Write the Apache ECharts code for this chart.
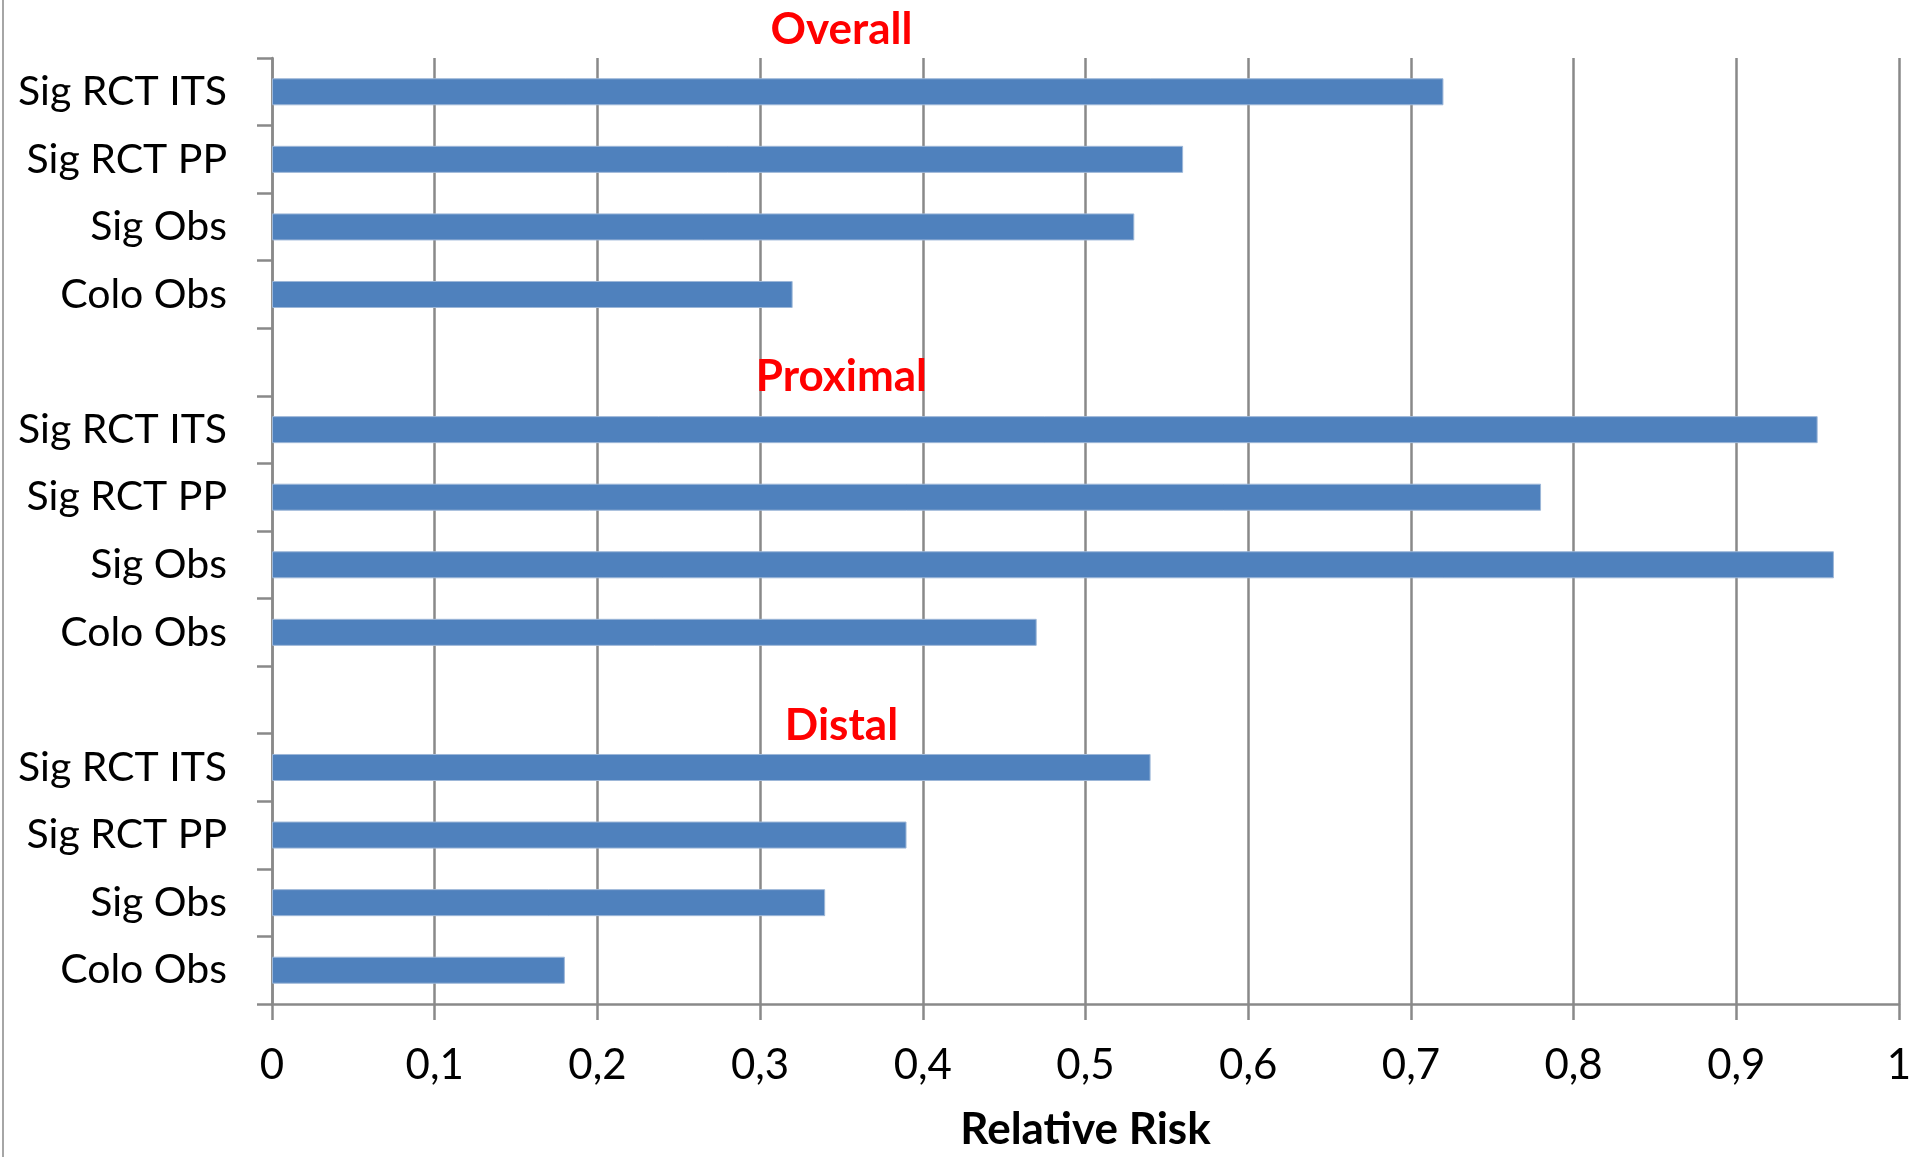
<!DOCTYPE html>
<html>
<head>
<meta charset="utf-8">
<title>Relative Risk</title>
<script src="https://cdn.jsdelivr.net/npm/echarts@6/dist/echarts.min.js"></script>
<style>
  html, body { margin: 0; padding: 0; background: #ffffff; }
  #chart { width: 1915px; height: 1157px; }
</style>
</head>
<body>
<div id="chart"></div>
<script>
// Row labels inside each section, top to bottom
const rowLabels = ['Sig RCT ITS', 'Sig RCT PP', 'Sig Obs', 'Colo Obs'];
// Section headings, top to bottom
const sectionNames = ['Overall', 'Proximal', 'Distal'];
// Relative risk per section, in the order of rowLabels
const overallRR = [0.72, 0.56, 0.53, 0.32];
const proximalRR = [0.95, 0.78, 0.96, 0.47];
const distalRR = [0.54, 0.39, 0.34, 0.18];
// Value axis ticks
const xTicks = [0, 0.1, 0.2, 0.3, 0.4, 0.5, 0.6, 0.7, 0.8, 0.9, 1];

const sectionValues = [overallRR, proximalRR, distalRR];

// Build the category list with a blank spacer row between sections
const categories = [];
const values = [];
const sectionFirstRow = [];
sectionValues.forEach(function (vals, s) {
  if (s > 0) { categories.push(''); values.push('-'); }
  sectionFirstRow.push(categories.length);
  rowLabels.forEach(function (lab, i) {
    categories.push(lab);
    values.push(vals[i]);
  });
});

const FONT = 'Lato, "Open Sans", "DejaVu Sans", sans-serif';
const AXIS_GRAY = '#898989';

const chart = echarts.init(document.getElementById('chart'), null, { renderer: 'canvas' });

const option = {
  backgroundColor: '#ffffff',
  animation: false,
  grid: { left: 272, right: 16, top: 58, bottom: 146, containLabel: false },
  xAxis: {
    type: 'value',
    min: xTicks[0],
    max: xTicks[xTicks.length - 1],
    interval: 0.1,
    name: 'Relative Risk',
    nameLocation: 'middle',
    nameGap: 104,
    nameTextStyle: { fontFamily: FONT, fontSize: 44, fontWeight: 'bold', color: '#000000' },
    axisLine: { show: true, lineStyle: { color: AXIS_GRAY, width: 2.5 } },
    axisTick: { show: true, length: 16, lineStyle: { color: AXIS_GRAY, width: 2.5 } },
    axisLabel: {
      margin: 40,
      fontFamily: FONT, fontSize: 42, color: '#000000',
      formatter: function (v) { return String(Math.round(v * 10) / 10).replace('.', ','); }
    },
    splitLine: { show: true, lineStyle: { color: AXIS_GRAY, width: 2.5 } }
  },
  yAxis: {
    type: 'category',
    inverse: true,
    data: categories,
    axisLine: { show: true, lineStyle: { color: AXIS_GRAY, width: 2.5 } },
    axisTick: { show: true, length: 15, lineStyle: { color: AXIS_GRAY, width: 2.5 } },
    axisLabel: { margin: 45, fontFamily: FONT, fontSize: 41, color: '#000000' },
    splitLine: { show: false }
  },
  series: [{
    type: 'bar',
    data: values,
    barWidth: '40%',
    itemStyle: { color: '#4F81BD', borderColor: '#9DB7D8', borderWidth: 1 },
    z: 3
  }]
};
chart.setOption(option);

// Section headings: placed over the spacer row above each section
const headingOffset = [6, 15, 26];
const headingX = 0.35;
const y0 = chart.convertToPixel({ yAxisIndex: 0 }, 0);
const y1 = chart.convertToPixel({ yAxisIndex: 0 }, 1);
const band = y1 - y0;
const hx = chart.convertToPixel({ xAxisIndex: 0 }, headingX);
const graphics = sectionNames.map(function (name, s) {
  const yc = chart.convertToPixel({ yAxisIndex: 0 }, sectionFirstRow[s]) - band + headingOffset[s];
  return {
    type: 'text',
    x: hx, y: yc,
    z: 10,
    style: {
      text: name,
      fontFamily: FONT, fontSize: 44, fontWeight: 'bold',
      fill: '#FF0000',
      align: 'center', verticalAlign: 'middle'
    }
  };
});
// Chart frame edge on the left
graphics.push({
  type: 'line',
  shape: { x1: 3, y1: 0, x2: 3, y2: 1157 },
  style: { stroke: '#a6a6a6', lineWidth: 2 }
});
chart.setOption({ graphic: graphics });
</script>
</body>
</html>
